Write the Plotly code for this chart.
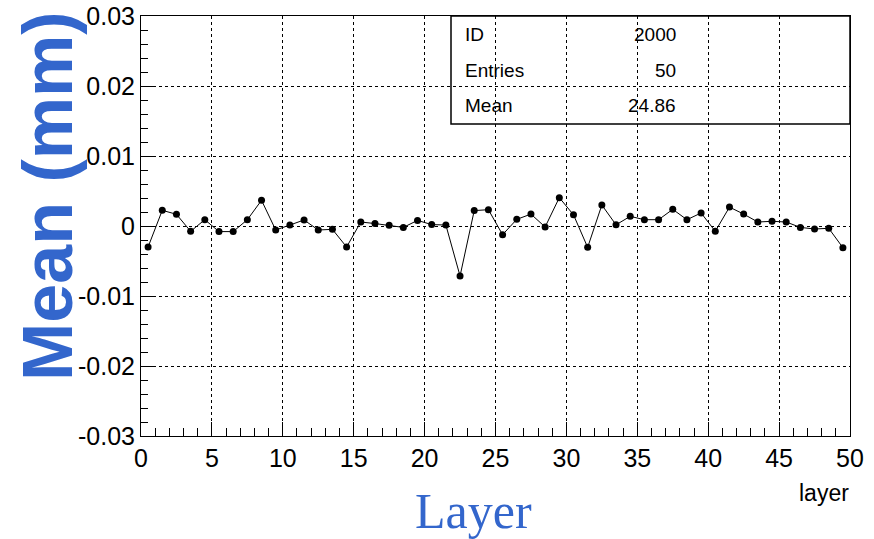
import plotly.graph_objects as go

layers = [i + 0.5 for i in range(50)]
means = [-0.0030, 0.00224, 0.00167, -0.00076, 0.0009, -0.0008, -0.0008, 0.0009, 0.00367, -0.00057,
         0.00014, 0.00086, -0.00057, -0.00048, -0.0030, 0.00057, 0.00035, 0.0001, -0.0002, 0.0008,
         0.0002, 0.00014, -0.00714, 0.0022, 0.00233, -0.00124, 0.00095, 0.0017, -0.00014, 0.00405,
         0.0016, -0.00305, 0.0030, 0.00017, 0.00138, 0.0009, 0.0009, 0.00238, 0.0009, 0.00186,
         -0.00076, 0.0027, 0.0017, 0.00057, 0.00067, 0.00057, -0.0002, -0.00043, -0.00033, -0.0031]

x_ticks = [0, 5, 10, 15, 20, 25, 30, 35, 40, 45, 50]
y_ticks = [-0.03, -0.02, -0.01, 0, 0.01, 0.02, 0.03]
y_tick_labels = ["-0.03", "-0.02", "-0.01", "0", "0.01", "0.02", "0.03"]

stats_names = ["ID", "Entries", "Mean"]
stats_values = ["2000", "50", "24.86"]

W, H = 874, 539
L, R, T, B = 141, 24, 16, 103
PW, PH = W - L - R, H - T - B

def px(xp):
    return (xp - L) / PW

def py(yp):
    return (H - B - yp) / PH

SANS = "Liberation Sans, Arial, sans-serif"

fig = go.Figure()
fig.add_trace(go.Scatter(
    x=layers, y=means, mode="lines+markers",
    line=dict(color="black", width=1),
    marker=dict(color="black", size=7),
    showlegend=False,
))

tickfont = dict(family=SANS, size=25, color="black")
fig.update_xaxes(
    range=[0, 50], tickvals=x_ticks, ticktext=[str(v) for v in x_ticks],
    showgrid=True, gridcolor="black", griddash="dot", gridwidth=1,
    showline=True, linecolor="black", linewidth=1, mirror=True,
    ticks="inside", ticklen=14, tickcolor="black", tickwidth=1,
    minor=dict(dtick=1, ticks="inside", ticklen=8, tickcolor="black", showgrid=False),
    tickfont=tickfont, zeroline=False, automargin=False,
)
fig.update_yaxes(
    range=[-0.03, 0.03], tickvals=y_ticks, ticktext=y_tick_labels,
    showgrid=True, gridcolor="black", griddash="dot", gridwidth=1,
    showline=True, linecolor="black", linewidth=1, mirror=True,
    ticks="inside", ticklen=14, tickcolor="black", tickwidth=1,
    minor=dict(dtick=0.002, tick0=0, ticks="inside", ticklen=7, tickcolor="black", showgrid=False),
    tickfont=tickfont, zeroline=False, automargin=False,
)

# stats box
fig.add_shape(type="rect", xref="paper", yref="paper",
              x0=px(451), x1=px(850), y0=py(124), y1=py(16),
              line=dict(color="black", width=1.5), fillcolor="rgba(0,0,0,0)")
statfont = dict(family=SANS, size=19, color="black")
for i, (n, v) in enumerate(zip(stats_names, stats_values)):
    yc = py(35 + i * 35)
    fig.add_annotation(xref="paper", yref="paper", x=px(463), y=yc, text=n,
                       showarrow=False, xanchor="left", yanchor="middle", font=statfont)
    fig.add_annotation(xref="paper", yref="paper", x=px(678), y=yc, text=v,
                       showarrow=False, xanchor="right", yanchor="middle", font=statfont)

# small axis label
fig.add_annotation(xref="paper", yref="paper", x=px(851), y=py(493), text="layer",
                   showarrow=False, xanchor="right", yanchor="middle",
                   font=dict(family=SANS, size=23, color="black"))

# big titles
fig.add_annotation(xref="paper", yref="paper", x=px(473), y=py(511), text="Layer",
                   showarrow=False, xanchor="center", yanchor="middle",
                   font=dict(family="Liberation Serif, Times New Roman, serif", size=50, color="#3366CC"))
fig.add_annotation(xref="paper", yref="paper", x=px(48), y=py(197), text="<b>Mean (mm)</b>",
                   showarrow=False, xanchor="center", yanchor="middle", textangle=-90,
                   font=dict(family=SANS, size=70, color="#3366CC"))

fig.update_layout(
    width=W, height=H, margin=dict(l=L, r=R, t=T, b=B),
    paper_bgcolor="white", plot_bgcolor="white",
)
fig.write_html("out.html")
